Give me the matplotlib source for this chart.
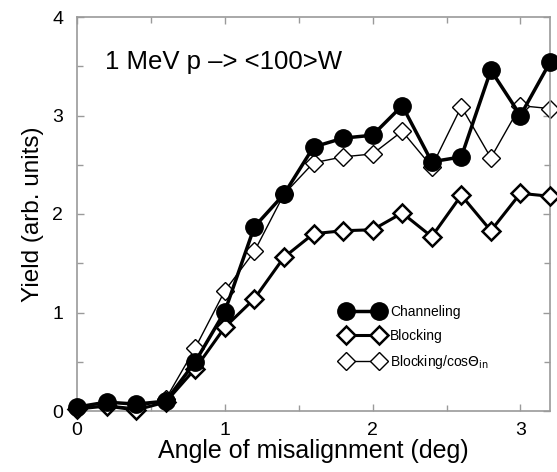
import matplotlib
matplotlib.use("Agg")
import matplotlib.pyplot as plt
from matplotlib.ticker import MultipleLocator

plt.rcParams['font.family'] = ['Liberation Sans', 'DejaVu Sans']

angle = [0.0, 0.2, 0.4, 0.6, 0.8, 1.0, 1.2, 1.4, 1.6, 1.8, 2.0, 2.2, 2.4, 2.6, 2.8, 3.0, 3.2]
channeling = [0.04, 0.09, 0.07, 0.10, 0.50, 1.01, 1.87, 2.20, 2.68, 2.77, 2.80, 3.10, 2.53, 2.58, 3.46, 3.00, 3.54]
blocking = [0.02, 0.05, 0.01, 0.09, 0.43, 0.85, 1.14, 1.56, 1.80, 1.83, 1.84, 2.01, 1.77, 2.19, 1.83, 2.21, 2.18]
blocking_cos = [0.03, 0.06, 0.03, 0.12, 0.64, 1.22, 1.62, 2.20, 2.52, 2.58, 2.61, 2.84, 2.48, 3.09, 2.57, 3.10, 3.07]

fig = plt.figure(figsize=(5.57, 4.72), dpi=100)
ax = fig.add_axes([77/557, 1-411/472, (550-77)/557, (411-17)/472])

ax.plot(angle, blocking_cos, '-', color='black', lw=1.0, marker='D', ms=9,
        mfc='white', mec='black', mew=1.0, label=r'Blocking/cos$\Theta_{\rm in}$',
        zorder=2, clip_on=False)
ax.plot(angle, blocking, '-', color='black', lw=2.2, marker='D', ms=9,
        mfc='white', mec='black', mew=1.8, label='Blocking', zorder=3, clip_on=False)
ax.plot(angle, channeling, '-', color='black', lw=2.5, marker='o', ms=12.5,
        mfc='black', mec='black', label='Channeling', zorder=4, clip_on=False)

ax.set_xlim(0, 3.2)
ax.set_ylim(0, 4)
ax.xaxis.set_major_locator(MultipleLocator(1))
ax.xaxis.set_minor_locator(MultipleLocator(0.5))
ax.yaxis.set_major_locator(MultipleLocator(1))
ax.yaxis.set_minor_locator(MultipleLocator(0.5))
gray = '#9a9a9a'
for s in ax.spines.values():
    s.set_color(gray)
    s.set_linewidth(1.2)
ax.tick_params(which='both', direction='in', top=True, right=True, color=gray,
               labelsize=14, width=1)
ax.tick_params(which='major', length=5)
ax.tick_params(which='minor', length=4)
ax.tick_params(axis='x', which='major', pad=8)
ax.tick_params(axis='y', which='major', pad=10)

ax.set_xlabel('Angle of misalignment (deg)', fontsize=18, labelpad=0)
ax.set_ylabel('Yield (arb. units)', fontsize=17.5, labelpad=6)

ax.text(0.19, 3.54, '1 MeV p \u2013> <100>W', fontsize=18.5, va='center', ha='left')

handles, labels = ax.get_legend_handles_labels()
order = [2, 1, 0]
ax.legend([handles[i] for i in order], [labels[i] for i in order],
          loc='upper left', bbox_to_anchor=(0.533, 0.30), frameon=False,
          numpoints=2, handlelength=3.0, fontsize=10, labelspacing=0.7,
          handletextpad=0.5)

fig.savefig('out.png', dpi=100)
